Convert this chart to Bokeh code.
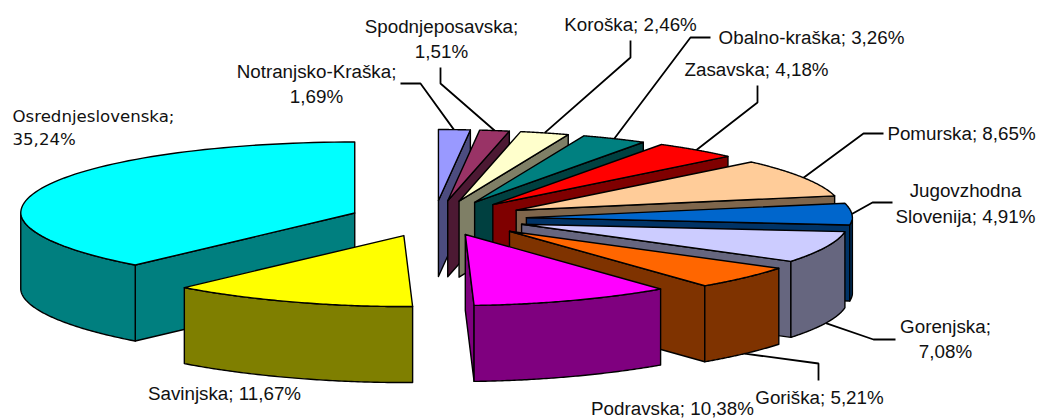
import numpy as np
from bokeh.plotting import figure
from bokeh.models import Range1d
from bokeh.core.properties import value
from bokeh.embed import file_html
from bokeh.resources import INLINE

# ---- data, clockwise from 12 o'clock
regions = ["Notranjsko-Kraška", "Spodnjeposavska", "Koroška", "Obalno-kraška", "Zasavska",
           "Pomurska", "Jugovzhodna Slovenija", "Gorenjska", "Goriška", "Podravska",
           "Savinjska", "Osrednjeslovenska"]
shares = [1.69, 1.51, 2.46, 3.26, 4.18, 8.65, 4.91, 7.08, 5.21, 10.38, 11.67, 35.24]
label_texts = ["Notranjsko-Kraška;\n1,69%", "Spodnjeposavska;\n1,51%", "Koroška; 2,46%",
               "Obalno-kraška; 3,26%", "Zasavska; 4,18%", "Pomurska; 8,65%",
               "Jugovzhodna\nSlovenija; 4,91%", "Gorenjska;\n7,08%", "Goriška; 5,21%",
               "Podravska; 10,38%", "Savinjska; 11,67%", "Osrednjeslovenska;\n35,24%"]
top_colors = ["#9999FF", "#993366", "#FFFFCC", "#008080", "#FF0000", "#FFCC99",
              "#0066CC", "#CCCCFF", "#FF6600", "#FF00FF", "#FFFF00", "#00FFFF"]

# ---- layout (page pixels)
W, H = 1042, 418
CX, CY, RX, RX_LEFT, RY, DEPTH = 433.0, 218.0, 326.0, 334.0, 71.0, 76.0
EX, EY = 93.0, 18.0   # explosion
explode = [1, 1, 1, 1, 1, 1, 1, 1, 1.08, 0.95, 1, 0.9]
FS = 18.8
# label: (anchor x, first-line y, align, font, size, line gap)
MAIN = "Liberation Sans"
label_pos = [
    (316, 71, "center", MAIN, FS, 25), (441, 26, "center", MAIN, FS, 25), (630, 24, "center", MAIN, FS, 0),
    (811, 37, "center", MAIN, FS, 0), (756, 69, "center", MAIN, FS, 0), (961, 133, "center", MAIN, FS, 0),
    (965, 190, "center", MAIN, FS, 26), (945, 326, "center", MAIN, FS, 25), (819, 397, "center", MAIN, FS, 0),
    (672, 408, "center", MAIN, FS, 0), (224, 393, "center", MAIN, FS, 0), (12, 116, "left", "DejaVu Sans", 16.6, 23),
]
# leader route after the anchor on the rim, None for no leader
leader_route = [
    [(420, 83), (400, 83)], [(440, 83), (440, 67)], [(630, 57), (630, 40)],
    [(690, 37), (710, 37)], [(757, 102), (757, 85)], [(863, 133), (883, 133)],
    [(872, 202), (892, 202)], [(873, 339), (895, 339)], [(818, 363), (818, 380)],
    None, None, None,
]
# painting order: right-hand fan from back to front, then the two left-hand slices
paint_order = [0, 1, 2, 3, 4, 5, 6, 7, 8, 9, 11, 10]


def darken(c):
    return "#" + "".join(f"{int(c[i:i+2], 16) // 2:02X}" for i in (1, 3, 5))


p = figure(width=W, height=H, output_backend="svg", toolbar_location=None,
           x_range=Range1d(0, W), y_range=Range1d(H, 0),
           min_border=0, outline_line_color=None, background_fill_color="white")
p.axis.visible = False
p.grid.visible = False

fr = np.cumsum([0.0] + shares) / 100.0
fr[-1] = 1.0  # the last slice closes the circle, as it does in the picture
starts, ends = np.radians(fr[:-1] * 360), np.radians(fr[1:] * 360)


def rim(ax, ay, t):
    t = np.asarray(t, dtype=float)
    # small angular distortion of the 3-D projection, quadrant by quadrant
    s2 = np.sin(2 * t)
    q = np.sqrt(np.abs(s2))
    wx = np.where(t < np.pi / 2, -1.0, np.where(t < np.pi, 3.0, np.where(t < 1.5 * np.pi, 1.5, 0.0))) * q
    wy = np.where((t > np.pi) & (t < 1.5 * np.pi), 3.3, 0.0) * q
    s = np.sin(t + np.radians(wx))
    return ax + np.where(s < 0, RX_LEFT, RX) * s, ay - RY * np.cos(t + np.radians(wy))


faces = {}
for i in range(len(shares)):
    a, b = starts[i], ends[i]
    mid = (a + b) / 2
    ax = CX + explode[i] * EX * np.sin(mid)
    ay = CY - explode[i] * EY * np.cos(mid)
    xs, ys = rim(ax, ay, np.linspace(a, b, 80))
    col = top_colors[i]
    dark = darken(col)
    mx, my = rim(ax, ay, mid)
    if np.cos(mid) < 0:
        my = my + DEPTH
    if leader_route[i]:
        rx, ry = zip(*leader_route[i])
        p.line([float(mx), *rx], [float(my), *ry], line_color="black", line_width=1.8)
    item = []
    for t, facing in ((a, np.sin(a) < 0), (b, np.sin(b) > 0)):
        if facing:
            ex, ey = rim(ax, ay, t)
            ex, ey = float(ex), float(ey)
            item.append(([ax, ex, ex, ax], [ay, ey, ey + DEPTH, ay + DEPTH], dark))
    lo, hi = max(a, np.pi / 2), min(b, 3 * np.pi / 2)
    if hi > lo:
        wx_, wy_ = rim(ax, ay, np.linspace(lo, hi, 80))
        item.append((list(wx_) + list(wx_[::-1]), list(wy_) + list(wy_[::-1] + DEPTH), dark))
    item.append(([ax, *xs], [ay, *ys], col))
    faces[i] = item

for i in paint_order:
    for fx, fy, c in faces[i]:
        p.patch(fx, fy, fill_color=c, line_color="black", line_width=1.4, line_join="round")

for txt, (x, y, al, font, fs, gap) in zip(label_texts, label_pos):
    for k, line in enumerate(txt.split("\n")):
        p.text([x], [y + k * gap], text=[line], text_align=al, text_baseline="middle",
               text_font=value(font), text_font_size=f"{fs}px", text_color="#111111")

open("out.html", "w").write(file_html(p, INLINE))
